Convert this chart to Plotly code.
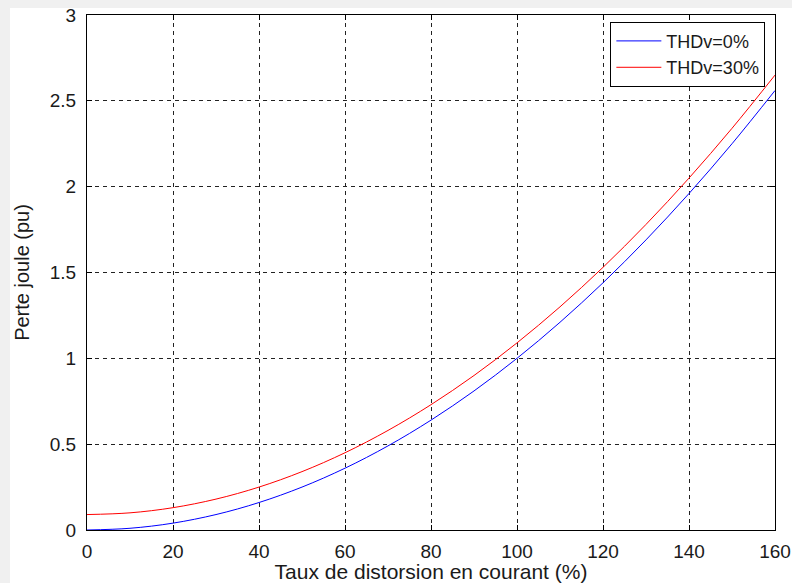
import plotly.graph_objects as go

x_vals = [0, 10, 20, 30, 40, 50, 60, 70, 80, 90, 100, 110, 120, 130, 140, 150, 160]
thdv0 = [0.0, 0.01, 0.04, 0.09, 0.16, 0.25, 0.36, 0.49, 0.64, 0.81, 1.0, 1.21, 1.44, 1.69, 1.96, 2.25, 2.56]
thdv30 = [0.09, 0.10, 0.13, 0.18, 0.25, 0.34, 0.45, 0.58, 0.73, 0.90, 1.09, 1.30, 1.53, 1.78, 2.05, 2.34, 2.65]
x_ticks = [0, 20, 40, 60, 80, 100, 120, 140, 160]
y_ticks = [0, 0.5, 1, 1.5, 2, 2.5, 3]
y_tick_labels = ["0", "0.5", "1", "1.5", "2", "2.5", "3"]

font_family = "Liberation Sans, Arial, sans-serif"
txt_color = "#1a1a1a"

fig = go.Figure()
fig.add_trace(go.Scatter(x=x_vals, y=thdv0, mode="lines", name="THDv=0%",
                         line=dict(color="#0000ff", width=1, shape="spline")))
fig.add_trace(go.Scatter(x=x_vals, y=thdv30, mode="lines", name="THDv=30%",
                         line=dict(color="#ff0000", width=1, shape="spline")))

axis_common = dict(
    showline=True, linecolor="black", linewidth=1.2, mirror="ticks",
    ticks="inside", ticklen=5, tickcolor="black",
    showgrid=True, gridcolor="#222222", gridwidth=1, griddash="4px,4px",
    zeroline=False, tickfont=dict(family=font_family, size=19, color=txt_color),
    automargin=False, ticklabeloverflow="allow",
)

fig.update_xaxes(range=[0, 160], tickvals=x_ticks, ticklabelstandoff=4, **axis_common,
                 title=dict(text="Taux de distorsion en courant (%)",
                            font=dict(family=font_family, size=21, color=txt_color),
                            standoff=4))
fig.update_yaxes(range=[0, 3], tickvals=y_ticks, ticktext=y_tick_labels,
                 ticklabelstandoff=6, **axis_common,
                 title=dict(text="Perte joule (pu)",
                            font=dict(family=font_family, size=20, color=txt_color),
                            standoff=14))

fig.add_shape(type="rect", xref="paper", yref="paper",
              x0=-0.112, x1=1.1, y0=-0.2, y1=1.0136,
              fillcolor="white", line=dict(width=0), layer="below")

fig.update_layout(
    width=792, height=583,
    margin=dict(l=87, r=17, t=15, b=53, autoexpand=False),
    paper_bgcolor="#f0f0f0", plot_bgcolor="white",
    font=dict(family=font_family, size=19, color=txt_color),
    legend=dict(x=0.986, y=0.987, xanchor="right", yanchor="top",
                bgcolor="white", bordercolor="black", borderwidth=1,
                font=dict(family=font_family, size=18, color=txt_color),
                tracegroupgap=0, itemwidth=45),
    showlegend=True,
)

fig.write_html("out.html", config={"displayModeBar": False},
               post_script="document.body.style.margin='0';document.body.style.overflow='hidden';")
